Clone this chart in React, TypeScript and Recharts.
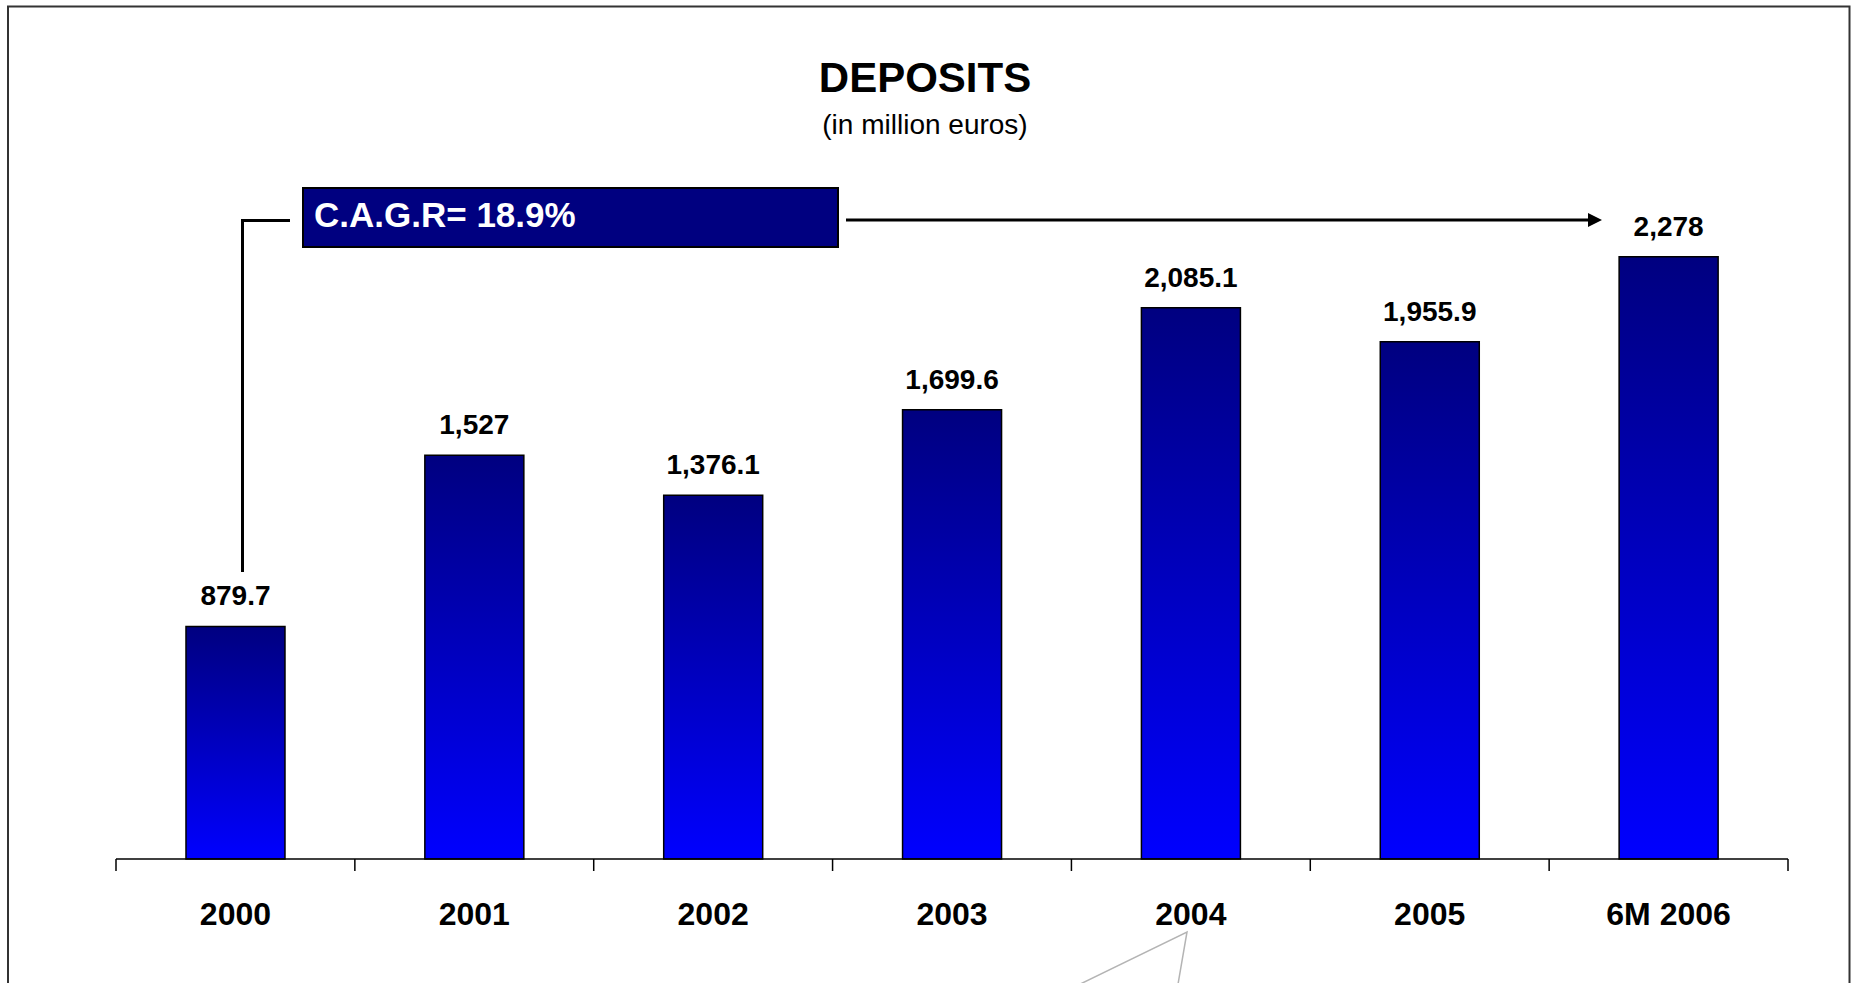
import { BarChart, Bar, XAxis, YAxis, LabelList } from 'recharts';

// deposits, in million euros
const years = ['2000', '2001', '2002', '2003', '2004', '2005', '6M 2006'];
const deposits = [879.7, 1527, 1376.1, 1699.6, 2085.1, 1955.9, 2278];

const data = years.map((year, i) => ({ year, deposits: deposits[i] }));

const font = '"Liberation Sans", Arial, sans-serif';

const fmt = (v: any) => Number(v).toLocaleString('en-US');

// label in the middle of the band, tick marks on the band edges
const YearTick = (props: any) => {
  const { x, y, payload, index } = props;
  const half = payload && payload.offset ? payload.offset : 0;
  const last = index === years.length - 1;
  return (
    <g>
      {half > 0 && <line x1={x - half} y1={y} x2={x - half} y2={y + 12} stroke="#000" strokeWidth={1.5} />}
      {half > 0 && last && <line x1={x + half} y1={y} x2={x + half} y2={y + 12} stroke="#000" strokeWidth={1.5} />}
      <text x={x} y={y + 66} textAnchor="middle" fontFamily={font} fontWeight={700} fontSize={32} fill="#000">
        {payload.value}
      </text>
    </g>
  );
};

const Overlay = () => (
  <svg
    width={1853}
    height={983}
    style={{ position: 'absolute', left: 0, top: 0, pointerEvents: 'none' }}
  >
    <rect x={8} y={6.5} width={1841.5} height={1000} fill="none" stroke="#333" strokeWidth={2} />
    <text x={925} y={92} textAnchor="middle" fontFamily={font} fontWeight={700} fontSize={42} fill="#000">
      DEPOSITS
    </text>
    <text x={925} y={134} textAnchor="middle" fontFamily={font} fontSize={28} fill="#000">
      (in million euros)
    </text>

    {/* C.A.G.R bracket */}
    <polyline points="242.5,572 242.5,220.5 290,220.5" fill="none" stroke="#000" strokeWidth={3} />
    <rect x={303} y={188} width={535} height={59} fill="#000080" stroke="#000" strokeWidth={2} />
    <text x={314} y={227} fontFamily={font} fontWeight={700} fontSize={35} fill="#fff">
      C.A.G.R= 18.9%
    </text>
    <line x1={846} y1={220} x2={1590} y2={220} stroke="#000" strokeWidth={3} />
    <polygon points="1588,213 1602,220 1588,227" fill="#000" />

    <polyline points="1068,990 1187,932 1177,990" fill="none" stroke="#b4b4b4" strokeWidth={1.5} />
  </svg>
);

export default function App() {
  return (
    <div style={{ position: 'absolute', left: 0, top: 0, width: 1853, height: 983, background: '#fff', overflow: 'hidden' }}>
      <BarChart
        width={1853}
        height={983}
        data={data}
        margin={{ top: 198, right: 65, bottom: 64, left: 116 }}
        barCategoryGap="29.3%"
      >
        <defs>
          <linearGradient id="barGrad" x1="0" y1="0" x2="0" y2="1">
            <stop offset="0%" stopColor="#000080" />
            <stop offset="100%" stopColor="#0000ff" />
          </linearGradient>
        </defs>
        <YAxis hide domain={[0, 2500]} />
        <XAxis
          dataKey="year"
          height={60}
          interval={0}
          axisLine={{ stroke: '#000', strokeWidth: 1.5 }}
          tickLine={false}
          tickSize={0}
          tickMargin={0}
          tick={<YearTick />}
        />
        <Bar
          dataKey="deposits"
          fill="url(#barGrad)"
          stroke="#000"
          strokeWidth={1.5}
          isAnimationActive={false}
        >
          <LabelList
            dataKey="deposits"
            position="top"
            offset={21}
            formatter={fmt}
            style={{ fontSize: 28, fontWeight: 700, fill: '#000', fontFamily: font }}
          />
        </Bar>
      </BarChart>
      <Overlay />
    </div>
  );
}
